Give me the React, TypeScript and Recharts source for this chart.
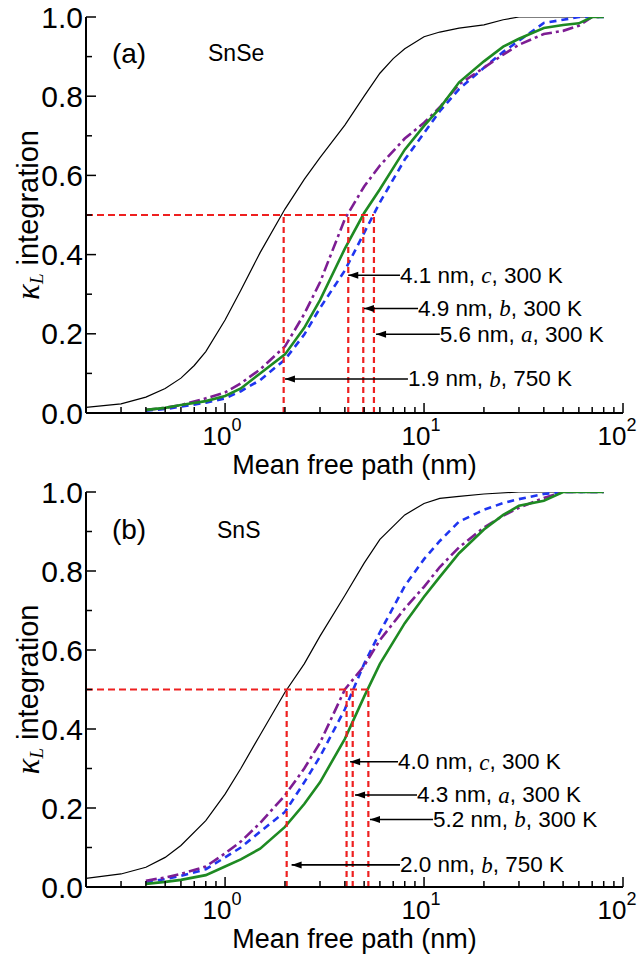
import React from "react";
import { LineChart, Line, XAxis, YAxis, ReferenceLine, ReferenceDot } from "recharts";

const SANS = "'Liberation Sans', Arial, Helvetica, sans-serif";
const SERIF = "'Liberation Serif', 'Times New Roman', serif";
const RED = "#ee2020";

// axis ticks
const X_TICKS = [0.2, 0.3, 0.4, 0.5, 0.6, 0.7, 0.8, 0.9, 1, 2, 3, 4, 5, 6, 7, 8, 9, 10, 20, 30, 40, 50, 60, 70, 80, 90, 100];
const X_MAJOR = [1, 10, 100];
const Y_TICKS = [0, 0.1, 0.2, 0.3, 0.4, 0.5, 0.6, 0.7, 0.8, 0.9, 1];
const Y_LABELS = ["0.0", "", "0.2", "", "0.4", "", "0.6", "", "0.8", "", "1.0"];

// (a) SnSe : [mean free path nm, cumulative kappa_L]
const snseB750 = [[0.2, 0.014], [0.3, 0.023], [0.4, 0.04], [0.5, 0.062], [0.6, 0.088], [0.7, 0.12], [0.8, 0.155], [1, 0.235], [1.2, 0.31], [1.5, 0.405], [2, 0.515], [2.5, 0.59], [3, 0.645], [4, 0.727], [5, 0.8], [6, 0.858], [7, 0.895], [8, 0.92], [10, 0.95], [12, 0.962], [15, 0.972], [20, 0.98], [25, 0.993], [30, 1], [50, 1], [80, 1]];
const snseB300 = [[0.4, 0.008], [0.5, 0.013], [0.6, 0.02], [0.8, 0.03], [1, 0.043], [1.2, 0.062], [1.5, 0.1], [2, 0.148], [2.5, 0.215], [3, 0.285], [4, 0.415], [5, 0.505], [6, 0.565], [8, 0.665], [10, 0.725], [12, 0.77], [15, 0.835], [20, 0.888], [25, 0.925], [30, 0.945], [40, 0.972], [50, 0.98], [60, 0.984], [70, 1], [80, 1]];
const snseA300 = [[0.4, 0.006], [0.5, 0.01], [0.6, 0.016], [0.8, 0.026], [1, 0.037], [1.2, 0.055], [1.5, 0.083], [2, 0.135], [2.5, 0.198], [3, 0.265], [4, 0.36], [5, 0.455], [6, 0.532], [8, 0.64], [10, 0.707], [12, 0.762], [15, 0.818], [20, 0.872], [25, 0.912], [30, 0.94], [40, 0.985], [50, 0.993], [60, 1], [80, 1]];
const snseC300 = [[0.4, 0.008], [0.5, 0.013], [0.6, 0.02], [0.8, 0.037], [1, 0.052], [1.2, 0.075], [1.5, 0.11], [2, 0.168], [2.5, 0.25], [3, 0.33], [4, 0.49], [5, 0.572], [6, 0.625], [8, 0.693], [10, 0.733], [12, 0.772], [15, 0.83], [20, 0.872], [25, 0.905], [30, 0.93], [40, 0.957], [50, 0.965], [60, 0.978], [70, 1], [80, 1]];
const snseCuts = [1.97, 4.16, 4.95, 5.6];
const snseNotes = [
  { pre: "4.1 nm, ", ax: "c", post: ", 300 K", y: 0.348, tip: 4.16, start: 7.57 },
  { pre: "4.9 nm, ", ax: "b", post: ", 300 K", y: 0.264, tip: 4.99, start: 9.33 },
  { pre: "5.6 nm, ", ax: "a", post: ", 300 K", y: 0.199, tip: 5.74, start: 12.0 },
  { pre: "1.9 nm, ", ax: "b", post: ", 750 K", y: 0.086, tip: 2.0, start: 8.3 },
];

// (b) SnS
const snsB750 = [[0.2, 0.022], [0.3, 0.033], [0.4, 0.05], [0.5, 0.075], [0.6, 0.105], [0.8, 0.168], [1, 0.235], [1.2, 0.3], [1.5, 0.385], [2, 0.493], [2.5, 0.565], [3, 0.635], [4, 0.738], [5, 0.82], [6, 0.88], [8, 0.942], [10, 0.971], [12, 0.984], [15, 0.989], [20, 0.995], [30, 1], [50, 1], [80, 1]];
const snsB300 = [[0.4, 0.008], [0.5, 0.013], [0.6, 0.018], [0.8, 0.03], [1, 0.052], [1.2, 0.07], [1.5, 0.097], [2, 0.152], [2.5, 0.21], [3, 0.265], [4, 0.375], [5, 0.482], [6, 0.565], [8, 0.668], [10, 0.735], [12, 0.785], [15, 0.845], [20, 0.905], [25, 0.942], [30, 0.965], [40, 0.978], [50, 1], [80, 1]];
const snsA300 = [[0.4, 0.012], [0.5, 0.02], [0.6, 0.028], [0.8, 0.045], [1, 0.075], [1.2, 0.1], [1.5, 0.14], [2, 0.19], [2.5, 0.265], [3, 0.33], [4, 0.45], [5, 0.565], [6, 0.645], [8, 0.762], [10, 0.83], [12, 0.876], [15, 0.925], [20, 0.955], [25, 0.972], [30, 0.982], [40, 0.995], [50, 1], [80, 1]];
const snsC300 = [[0.4, 0.016], [0.5, 0.024], [0.6, 0.033], [0.8, 0.052], [1, 0.085], [1.2, 0.115], [1.5, 0.162], [2, 0.232], [2.5, 0.3], [3, 0.365], [4, 0.5], [5, 0.56], [6, 0.625], [8, 0.705], [10, 0.76], [12, 0.81], [15, 0.86], [20, 0.91], [25, 0.94], [30, 0.96], [40, 0.985], [50, 1], [80, 1]];
const snsCuts = [2.04, 4.08, 4.38, 5.25];
const snsNotes = [
  { pre: "4.0 nm, ", ax: "c", post: ", 300 K", y: 0.317, tip: 4.25, start: 7.4 },
  { pre: "4.3 nm, ", ax: "a", post: ", 300 K", y: 0.233, tip: 4.5, start: 9.22 },
  { pre: "5.2 nm, ", ax: "b", post: ", 300 K", y: 0.171, tip: 5.35, start: 11.1 },
  { pre: "2.0 nm, ", ax: "b", post: ", 750 K", y: 0.056, tip: 2.16, start: 7.57 },
];

const toPts = (arr: number[][]) => arr.map(([x, y]) => ({ x, y }));

function BottomTick({ x, y, payload }: any) {
  const v = payload.value;
  const major = X_MAJOR.includes(v);
  return (
    <g>
      <line x1={x} y1={y} x2={x} y2={y - (major ? 10 : 6)} stroke="#000" strokeWidth={1.5} />
      {major && (
        <text x={x + (v === 100 ? -6 : -3)} y={y + 32} textAnchor="middle" fontFamily={SANS} fontSize={26} fill="#000">
          10
          <tspan dy={-14} fontSize={18}>{Math.round(Math.log10(v))}</tspan>
        </text>
      )}
    </g>
  );
}

function TopTick({ x, y, payload }: any) {
  const major = X_MAJOR.includes(payload.value);
  return <line x1={x} y1={y} x2={x} y2={y + (major ? 10 : 6)} stroke="#000" strokeWidth={1.5} />;
}

function LeftTick({ x, y, payload }: any) {
  const i = Y_TICKS.indexOf(payload.value);
  const major = Y_LABELS[i] !== "";
  return (
    <g>
      <line x1={x} y1={y} x2={x + (major ? 10 : 6)} y2={y} stroke="#000" strokeWidth={1.5} />
      {major && (
        <text x={x - 3} y={y} textAnchor="end" dominantBaseline="central" fontFamily={SANS} fontSize={30} fill="#000">
          {Y_LABELS[i]}
        </text>
      )}
    </g>
  );
}

function RightTick({ x, y, payload }: any) {
  const i = Y_TICKS.indexOf(payload.value);
  const major = Y_LABELS[i] !== "";
  return <line x1={x} y1={y} x2={x - (major ? 10 : 6)} y2={y} stroke="#000" strokeWidth={1.5} />;
}

function XLabel({ viewBox }: any) {
  const cx = viewBox.x + viewBox.width / 2;
  return (
    <text x={cx} y={viewBox.y + 61} textAnchor="middle" fontFamily={SANS} fontSize={27} fill="#000">
      Mean free path (nm)
    </text>
  );
}

function YLabel({ viewBox }: any) {
  const cy = viewBox.y + viewBox.height / 2;
  const cx = 28;
  return (
    <text x={cx} y={cy} transform={`rotate(-90 ${cx} ${cy})`} textAnchor="middle" dominantBaseline="central"
      fontFamily={SANS} fontSize={29} fill="#000" style={{ whiteSpace: "pre" }}>
      <tspan fontFamily={SERIF} fontStyle="italic" fontSize={33}>κ</tspan>
      <tspan fontFamily={SERIF} fontStyle="italic" fontSize={19} dy={8}>L</tspan>
      <tspan dy={-8}>{" integration"}</tspan>
    </text>
  );
}

type Note = { pre: string; ax: string; post: string; y: number; tip: number; start: number };

function Panel(props: {
  top: number; height: number; plotTop: number; plotBottom: number;
  b750: number[][]; b300: number[][]; a300: number[][]; c300: number[][];
  cuts: number[]; notes: Note[];
  tag: string; name: string; tagX: number; nameX: number; tagY: number;
}) {
  const { top, height, plotTop, plotBottom, cuts, notes } = props;
  const maxCut = Math.max(...cuts);
  return (
    <div style={{ position: "absolute", left: 0, top, width: 637, height }}>
      <LineChart width={637} height={height} margin={{ top: plotTop, right: 14, bottom: 0, left: 0 }}>
        <XAxis type="number" dataKey="x" scale="log" domain={[0.2, 100]} allowDataOverflow ticks={X_TICKS}
          interval={0} tick={<BottomTick />} tickLine={false} tickSize={0} tickMargin={0}
          axisLine={{ stroke: "#000", strokeWidth: 2 }} height={height - plotBottom}
          label={(p: any) => <XLabel viewBox={p.viewBox} />} />
        <XAxis xAxisId="top" orientation="top" type="number" dataKey="x" scale="log" domain={[0.2, 100]} allowDataOverflow
          ticks={X_TICKS} interval={0} tick={<TopTick />} tickLine={false} tickSize={0} tickMargin={0}
          axisLine={{ stroke: "#000", strokeWidth: 2 }} height={0} />
        <YAxis type="number" domain={[0, 1]} allowDataOverflow ticks={Y_TICKS} interval={0} tick={<LeftTick />}
          tickLine={false} tickSize={0} tickMargin={0} axisLine={{ stroke: "#000", strokeWidth: 2 }} width={86}
          label={(p: any) => <YLabel viewBox={p.viewBox} />} />
        <YAxis yAxisId="right" orientation="right" type="number" domain={[0, 1]} allowDataOverflow ticks={Y_TICKS}
          interval={0} tick={<RightTick />} tickLine={false} tickSize={0} tickMargin={0}
          axisLine={{ stroke: "#000", strokeWidth: 2 }} width={0} />

        <Line data={toPts(props.b750)} dataKey="y" stroke="#000" strokeWidth={1.2} dot={false} isAnimationActive={false} />
        <Line data={toPts(props.a300)} dataKey="y" stroke="#1f35f0" strokeWidth={2.6} strokeDasharray="7 5" dot={false} isAnimationActive={false} />
        <Line data={toPts(props.c300)} dataKey="y" stroke="#7d1d93" strokeWidth={2.6} strokeDasharray="11 4 3 4" dot={false} isAnimationActive={false} />
        <Line data={toPts(props.b300)} dataKey="y" stroke="#1e8a22" strokeWidth={2.6} dot={false} isAnimationActive={false} />

        <ReferenceLine segment={[{ x: 0.2, y: 0.5 }, { x: maxCut, y: 0.5 }]} ifOverflow="visible" stroke={RED} strokeWidth={2.2} strokeDasharray="7 4" />
        {cuts.map((c) => (
          <ReferenceLine key={"c" + c} segment={[{ x: c, y: 0 }, { x: c, y: 0.5 }]} ifOverflow="visible" stroke={RED} strokeWidth={2.2} strokeDasharray="6 4" />
        ))}

        {notes.map((n) => (
          <ReferenceLine key={"s" + n.pre} segment={[{ x: n.tip, y: n.y }, { x: n.start, y: n.y }]} ifOverflow="visible" stroke="#000" strokeWidth={1.6} />
        ))}
        {notes.map((n) => (
          <ReferenceDot key={"h" + n.pre} x={n.tip} y={n.y} r={0} ifOverflow="visible"
            shape={(p: any) => (
              <polygon points={`${p.cx},${p.cy} ${p.cx + 10},${p.cy - 3.5} ${p.cx + 10},${p.cy + 3.5}`} fill="#000" />
            )} />
        ))}
        {notes.map((n) => (
          <ReferenceDot key={"t" + n.pre} x={n.start} y={n.y} r={0} ifOverflow="visible"
            shape={(p: any) => (
              <text x={p.cx} y={p.cy} dominantBaseline="central" fontFamily={SANS} fontSize={22.5} fill="#000" style={{ whiteSpace: "pre" }}>
                {n.pre}
                <tspan fontFamily={SERIF} fontStyle="italic" fontSize={23}>{n.ax}</tspan>
                {n.post}
              </text>
            )} />
        ))}

        <ReferenceDot x={props.tagX} y={props.tagY} r={0} ifOverflow="visible"
          shape={(p: any) => (
            <text x={p.cx} y={p.cy} dominantBaseline="central" fontFamily={SANS} fontSize={28} fill="#000">{props.tag}</text>
          )} />
        <ReferenceDot x={props.nameX} y={props.tagY} r={0} ifOverflow="visible"
          shape={(p: any) => (
            <text x={p.cx} y={p.cy} dominantBaseline="central" fontFamily={SANS} fontSize={23} fill="#000">{props.name}</text>
          )} />
      </LineChart>
    </div>
  );
}

export default function App() {
  return (
    <div style={{ position: "absolute", left: 0, top: 0, width: 637, height: 961, background: "#fff" }}>
      <Panel top={0} height={480} plotTop={17} plotBottom={413}
        b750={snseB750} b300={snseB300} a300={snseA300} c300={snseC300}
        cuts={snseCuts} notes={snseNotes} tag="(a)" name="SnSe" tagX={0.27} nameX={0.821} tagY={0.909} />
      <Panel top={470} height={491} plotTop={22} plotBottom={417}
        b750={snsB750} b300={snsB300} a300={snsA300} c300={snsC300}
        cuts={snsCuts} notes={snsNotes} tag="(b)" name="SnS" tagX={0.27} nameX={0.911} tagY={0.904} />
    </div>
  );
}
